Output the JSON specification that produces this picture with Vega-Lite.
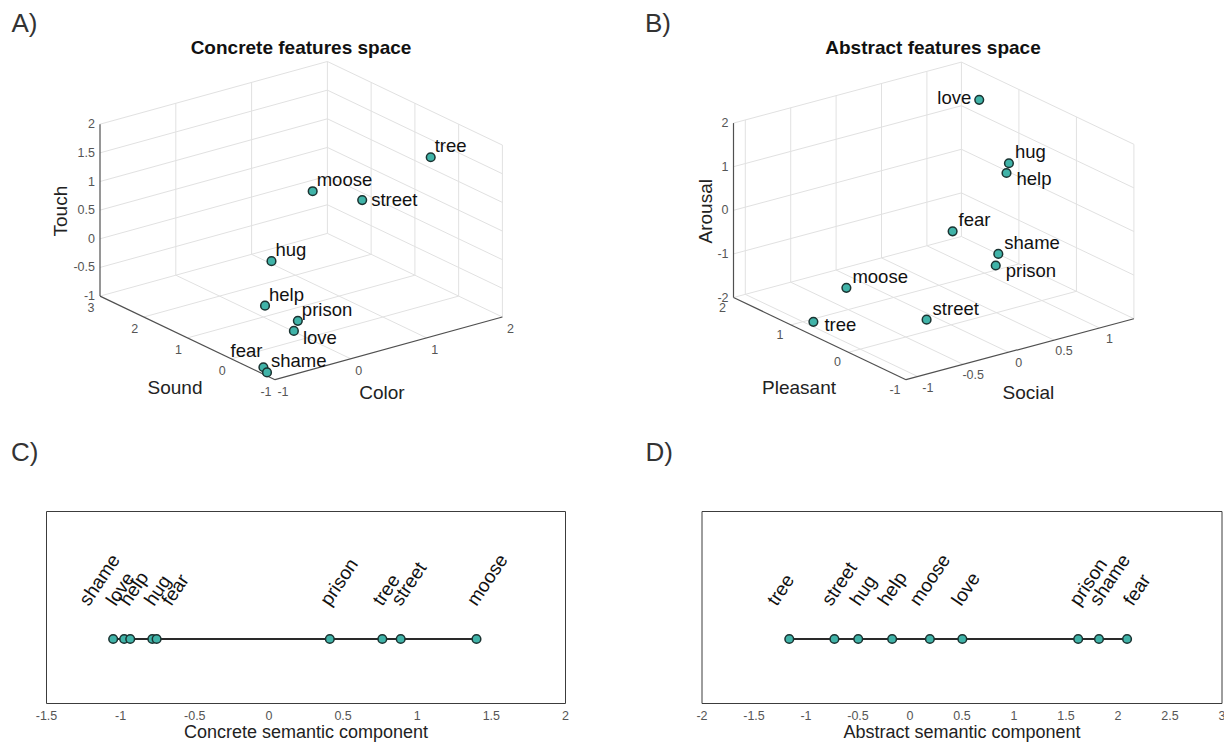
{
"$schema":"https://vega.github.io/schema/vega-lite/v6.json",
"background":"white",
"padding":{"left":10,"top":11,"right":0,"bottom":0},
"config":{"font":"Liberation Sans","view":{"stroke":null}},
"datasets":{
"ptsA":[
{"word":"tree","Color":1.92,"Sound":0.5,"Touch":1.27,"side":"above right"},
{"word":"moose","Color":0.94,"Sound":1.5,"Touch":0.67,"side":"above right"},
{"word":"street","Color":1.42,"Sound":1.2,"Touch":0.45,"side":"right"},
{"word":"hug","Color":-0.70,"Sound":-0.4,"Touch":0.74,"side":"above right"},
{"word":"help","Color":-0.67,"Sound":-0.2,"Touch":-0.12,"side":"above right"},
{"word":"prison","Color":-0.41,"Sound":-0.5,"Touch":-0.37,"side":"above right"},
{"word":"love","Color":-0.52,"Sound":-0.6,"Touch":-0.47,"side":"below right"},
{"word":"fear","Color":-0.98,"Sound":-0.7,"Touch":-0.90,"side":"above left"},
{"word":"shame","Color":-0.99,"Sound":-0.8,"Touch":-0.95,"side":"above right"}
],
"ticksA":[
{"axis":"Touch","Color":-1,"Sound":3,"Touch":-1,"label":"-1"},
{"axis":"Touch","Color":-1,"Sound":3,"Touch":-0.5,"label":"-0.5"},
{"axis":"Touch","Color":-1,"Sound":3,"Touch":0,"label":"0"},
{"axis":"Touch","Color":-1,"Sound":3,"Touch":0.5,"label":"0.5"},
{"axis":"Touch","Color":-1,"Sound":3,"Touch":1,"label":"1"},
{"axis":"Touch","Color":-1,"Sound":3,"Touch":1.5,"label":"1.5"},
{"axis":"Touch","Color":-1,"Sound":3,"Touch":2,"label":"2"},
{"axis":"Sound","Color":-1,"Sound":-1,"Touch":-1,"label":"-1"},
{"axis":"Sound","Color":-1,"Sound":0,"Touch":-1,"label":"0"},
{"axis":"Sound","Color":-1,"Sound":1,"Touch":-1,"label":"1"},
{"axis":"Sound","Color":-1,"Sound":2,"Touch":-1,"label":"2"},
{"axis":"Sound","Color":-1,"Sound":3,"Touch":-1,"label":"3"},
{"axis":"Color","Color":-1,"Sound":-1,"Touch":-1,"label":"-1"},
{"axis":"Color","Color":0,"Sound":-1,"Touch":-1,"label":"0"},
{"axis":"Color","Color":1,"Sound":-1,"Touch":-1,"label":"1"},
{"axis":"Color","Color":2,"Sound":-1,"Touch":-1,"label":"2"}
],
"titlesA":[
{"axis":"Touch","Color":-1,"Sound":3,"Touch":0.5},
{"axis":"Sound","Color":-1,"Sound":1,"Touch":-1},
{"axis":"Color","Color":0.5,"Sound":-1,"Touch":-1}
],
"gridA":[
{"c1":0,"s1":3,"t1":-1,"c2":0,"s2":3,"t2":2},
{"c1":1,"s1":3,"t1":-1,"c2":1,"s2":3,"t2":2},
{"c1":2,"s1":3,"t1":-1,"c2":2,"s2":3,"t2":2},
{"c1":-1,"s1":3,"t1":-1,"c2":2,"s2":3,"t2":-1},
{"c1":-1,"s1":3,"t1":-0.5,"c2":2,"s2":3,"t2":-0.5},
{"c1":-1,"s1":3,"t1":0,"c2":2,"s2":3,"t2":0},
{"c1":-1,"s1":3,"t1":0.5,"c2":2,"s2":3,"t2":0.5},
{"c1":-1,"s1":3,"t1":1,"c2":2,"s2":3,"t2":1},
{"c1":-1,"s1":3,"t1":1.5,"c2":2,"s2":3,"t2":1.5},
{"c1":-1,"s1":3,"t1":2,"c2":2,"s2":3,"t2":2},
{"c1":2,"s1":-1,"t1":-1,"c2":2,"s2":-1,"t2":2},
{"c1":2,"s1":0,"t1":-1,"c2":2,"s2":0,"t2":2},
{"c1":2,"s1":1,"t1":-1,"c2":2,"s2":1,"t2":2},
{"c1":2,"s1":2,"t1":-1,"c2":2,"s2":2,"t2":2},
{"c1":2,"s1":-1,"t1":-1,"c2":2,"s2":3,"t2":-1},
{"c1":2,"s1":-1,"t1":-0.5,"c2":2,"s2":3,"t2":-0.5},
{"c1":2,"s1":-1,"t1":0,"c2":2,"s2":3,"t2":0},
{"c1":2,"s1":-1,"t1":0.5,"c2":2,"s2":3,"t2":0.5},
{"c1":2,"s1":-1,"t1":1,"c2":2,"s2":3,"t2":1},
{"c1":2,"s1":-1,"t1":1.5,"c2":2,"s2":3,"t2":1.5},
{"c1":2,"s1":-1,"t1":2,"c2":2,"s2":3,"t2":2},
{"c1":0,"s1":-1,"t1":-1,"c2":0,"s2":3,"t2":-1},
{"c1":1,"s1":-1,"t1":-1,"c2":1,"s2":3,"t2":-1},
{"c1":-1,"s1":0,"t1":-1,"c2":2,"s2":0,"t2":-1},
{"c1":-1,"s1":1,"t1":-1,"c2":2,"s2":1,"t2":-1},
{"c1":-1,"s1":2,"t1":-1,"c2":2,"s2":2,"t2":-1}
],
"axesA":[
{"c1":-1,"s1":3,"t1":-1,"c2":-1,"s2":3,"t2":2},
{"c1":-1,"s1":-1,"t1":-1,"c2":-1,"s2":3,"t2":-1},
{"c1":-1,"s1":-1,"t1":-1,"c2":2,"s2":-1,"t2":-1}
],
"ptsB":[
{"word":"love","Social":1.38,"Pleasant":1.69,"Arousal":1.33,"side":"left"},
{"word":"hug","Social":1.27,"Pleasant":1.0,"Arousal":0.37,"side":"above right"},
{"word":"help","Social":1.18,"Pleasant":0.9,"Arousal":0.26,"side":"below right"},
{"word":"fear","Social":-0.49,"Pleasant":-0.8,"Arousal":0.92,"side":"above right"},
{"word":"shame","Social":-0.05,"Pleasant":-0.9,"Arousal":0.22,"side":"above right"},
{"word":"prison","Social":-0.11,"Pleasant":-0.95,"Arousal":0.02,"side":"below right"},
{"word":"street","Social":-0.27,"Pleasant":0.0,"Arousal":-1.73,"side":"above right"},
{"word":"moose","Social":-0.52,"Pleasant":1.0,"Arousal":-1.49,"side":"above right"},
{"word":"tree","Social":-1.01,"Pleasant":0.8,"Arousal":-1.87,"side":"right"}
],
"ticksB":[
{"axis":"Arousal","Social":-1.13,"Pleasant":2,"Arousal":-2,"label":"-2"},
{"axis":"Arousal","Social":-1.13,"Pleasant":2,"Arousal":-1,"label":"-1"},
{"axis":"Arousal","Social":-1.13,"Pleasant":2,"Arousal":0,"label":"0"},
{"axis":"Arousal","Social":-1.13,"Pleasant":2,"Arousal":1,"label":"1"},
{"axis":"Arousal","Social":-1.13,"Pleasant":2,"Arousal":2,"label":"2"},
{"axis":"Pleasant","Social":-1.13,"Pleasant":-1,"Arousal":-2,"label":"-1"},
{"axis":"Pleasant","Social":-1.13,"Pleasant":0,"Arousal":-2,"label":"0"},
{"axis":"Pleasant","Social":-1.13,"Pleasant":1,"Arousal":-2,"label":"1"},
{"axis":"Pleasant","Social":-1.13,"Pleasant":2,"Arousal":-2,"label":"2"},
{"axis":"Social","Social":-1,"Pleasant":-1,"Arousal":-2,"label":"-1"},
{"axis":"Social","Social":-0.5,"Pleasant":-1,"Arousal":-2,"label":"-0.5"},
{"axis":"Social","Social":0,"Pleasant":-1,"Arousal":-2,"label":"0"},
{"axis":"Social","Social":0.5,"Pleasant":-1,"Arousal":-2,"label":"0.5"},
{"axis":"Social","Social":1,"Pleasant":-1,"Arousal":-2,"label":"1"}
],
"titlesB":[
{"axis":"Arousal","Social":-1.13,"Pleasant":2,"Arousal":0},
{"axis":"Pleasant","Social":-1.13,"Pleasant":0.5,"Arousal":-2},
{"axis":"Social","Social":0.125,"Pleasant":-1,"Arousal":-2}
],
"gridB":[
{"so1":-1,"p1":2,"a1":-2,"so2":-1,"p2":2,"a2":2},
{"so1":-0.5,"p1":2,"a1":-2,"so2":-0.5,"p2":2,"a2":2},
{"so1":0,"p1":2,"a1":-2,"so2":0,"p2":2,"a2":2},
{"so1":0.5,"p1":2,"a1":-2,"so2":0.5,"p2":2,"a2":2},
{"so1":1,"p1":2,"a1":-2,"so2":1,"p2":2,"a2":2},
{"so1":1.38,"p1":2,"a1":-2,"so2":1.38,"p2":2,"a2":2},
{"so1":-1.13,"p1":2,"a1":-2,"so2":1.38,"p2":2,"a2":-2},
{"so1":-1.13,"p1":2,"a1":-1,"so2":1.38,"p2":2,"a2":-1},
{"so1":-1.13,"p1":2,"a1":0,"so2":1.38,"p2":2,"a2":0},
{"so1":-1.13,"p1":2,"a1":1,"so2":1.38,"p2":2,"a2":1},
{"so1":-1.13,"p1":2,"a1":2,"so2":1.38,"p2":2,"a2":2},
{"so1":1.38,"p1":-1,"a1":-2,"so2":1.38,"p2":-1,"a2":2},
{"so1":1.38,"p1":0,"a1":-2,"so2":1.38,"p2":0,"a2":2},
{"so1":1.38,"p1":1,"a1":-2,"so2":1.38,"p2":1,"a2":2},
{"so1":1.38,"p1":-1,"a1":-2,"so2":1.38,"p2":2,"a2":-2},
{"so1":1.38,"p1":-1,"a1":-1,"so2":1.38,"p2":2,"a2":-1},
{"so1":1.38,"p1":-1,"a1":0,"so2":1.38,"p2":2,"a2":0},
{"so1":1.38,"p1":-1,"a1":1,"so2":1.38,"p2":2,"a2":1},
{"so1":1.38,"p1":-1,"a1":2,"so2":1.38,"p2":2,"a2":2},
{"so1":-1,"p1":-1,"a1":-2,"so2":-1,"p2":2,"a2":-2},
{"so1":-0.5,"p1":-1,"a1":-2,"so2":-0.5,"p2":2,"a2":-2},
{"so1":0,"p1":-1,"a1":-2,"so2":0,"p2":2,"a2":-2},
{"so1":0.5,"p1":-1,"a1":-2,"so2":0.5,"p2":2,"a2":-2},
{"so1":1,"p1":-1,"a1":-2,"so2":1,"p2":2,"a2":-2},
{"so1":-1.13,"p1":0,"a1":-2,"so2":1.38,"p2":0,"a2":-2},
{"so1":-1.13,"p1":1,"a1":-2,"so2":1.38,"p2":1,"a2":-2}
],
"axesB":[
{"so1":-1.13,"p1":2,"a1":-2,"so2":-1.13,"p2":2,"a2":2},
{"so1":-1.13,"p1":-1,"a1":-2,"so2":-1.13,"p2":2,"a2":-2},
{"so1":-1.13,"p1":-1,"a1":-2,"so2":1.38,"p2":-1,"a2":-2}
],
"concrete1d":[
{"word":"shame","component":-1.047,"label_at":-1.211},
{"word":"love","component":-0.973,"label_at":-1.030},
{"word":"help","component":-0.932,"label_at":-0.940},
{"word":"hug","component":-0.783,"label_at":-0.772},
{"word":"fear","component":-0.754,"label_at":-0.656},
{"word":"prison","component":0.414,"label_at":0.414},
{"word":"tree","component":0.768,"label_at":0.768},
{"word":"street","component":0.892,"label_at":0.892},
{"word":"moose","component":1.403,"label_at":1.403}
],
"abstract1d":[
{"word":"tree","component":-1.156,"label_at":-1.277},
{"word":"street","component":-0.722,"label_at":-0.753},
{"word":"hug","component":-0.493,"label_at":-0.481},
{"word":"help","component":-0.167,"label_at":-0.212},
{"word":"moose","component":0.196,"label_at":0.092},
{"word":"love","component":0.508,"label_at":0.498},
{"word":"prison","component":1.622,"label_at":1.630},
{"word":"shame","component":1.822,"label_at":1.823},
{"word":"fear","component":2.092,"label_at":2.149}
]
},
"spacing":31,
"vconcat":[
{"hconcat":[
{"title":{"text":"A)","anchor":"start","frame":"group","fontSize":26,"fontWeight":"normal","color":"#333","baseline":"alphabetic","offset":-19,"dx":-34.5},
"vconcat":[{
"width":555,"height":350,"view":{"stroke":null},
"title":{"text":"Concrete features space","fontSize":19,"fontWeight":"bold","color":"#111","anchor":"middle","frame":"group","baseline":"alphabetic","offset":-15,"dx":-22.5},
"layer":[
{"data":{"name":"gridA"},"transform":[
{"calculate":"75.8*(datum.c1+1)-43.75*(datum.s1+1)","as":"gx1"},
{"calculate":"20.9*(datum.c1+datum.s1+2)+57.3*(datum.t1+1)","as":"gy1"},
{"calculate":"75.8*(datum.c2+1)-43.75*(datum.s2+1)","as":"gx2"},
{"calculate":"20.9*(datum.c2+datum.s2+2)+57.3*(datum.t2+1)","as":"gy2"}],
"mark":{"type":"rule","color":"#e1e1e1","strokeWidth":1},
"encoding":{"x":{"field":"gx1","type":"quantitative","scale":{"domain":[-229,326],"nice":false,"zero":false},"axis":null},
"y":{"field":"gy1","type":"quantitative","scale":{"domain":[-28.3,321.7],"nice":false,"zero":false},"axis":null},
"x2":{"field":"gx2"},"y2":{"field":"gy2"}}},
{"data":{"name":"axesA"},"transform":[
{"calculate":"75.8*(datum.c1+1)-43.75*(datum.s1+1)","as":"gx1"},
{"calculate":"20.9*(datum.c1+datum.s1+2)+57.3*(datum.t1+1)","as":"gy1"},
{"calculate":"75.8*(datum.c2+1)-43.75*(datum.s2+1)","as":"gx2"},
{"calculate":"20.9*(datum.c2+datum.s2+2)+57.3*(datum.t2+1)","as":"gy2"}],
"mark":{"type":"rule","color":"#505050","strokeWidth":1.2},
"encoding":{"x":{"field":"gx1","type":"quantitative","scale":{"domain":[-229,326],"nice":false,"zero":false},"axis":null},
"y":{"field":"gy1","type":"quantitative","scale":{"domain":[-28.3,321.7],"nice":false,"zero":false},"axis":null},
"x2":{"field":"gx2"},"y2":{"field":"gy2"}}},
{"data":{"name":"ticksA"},"transform":[{"filter":"datum.axis==='Touch'"},
{"calculate":"75.8*(datum.Color+1)-43.75*(datum.Sound+1)","as":"px"},
{"calculate":"20.9*(datum.Color+datum.Sound+2)+57.3*(datum.Touch+1)","as":"py"}],
"mark":{"type":"text","fontSize":12.5,"color":"#555","align":"right","baseline":"middle","dx":-5},
"encoding":{"x":{"field":"px","type":"quantitative","scale":{"domain":[-229,326],"nice":false,"zero":false},"axis":null},
"y":{"field":"py","type":"quantitative","scale":{"domain":[-28.3,321.7],"nice":false,"zero":false},"axis":null},
"text":{"field":"label","type":"nominal"}}},
{"data":{"name":"ticksA"},"transform":[{"filter":"datum.axis==='Sound'"},
{"calculate":"75.8*(datum.Color+1)-43.75*(datum.Sound+1)","as":"px"},
{"calculate":"20.9*(datum.Color+datum.Sound+2)+57.3*(datum.Touch+1)","as":"py"}],
"mark":{"type":"text","fontSize":12.5,"color":"#555","align":"center","baseline":"middle","dx":-9,"dy":12},
"encoding":{"x":{"field":"px","type":"quantitative","scale":{"domain":[-229,326],"nice":false,"zero":false},"axis":null},
"y":{"field":"py","type":"quantitative","scale":{"domain":[-28.3,321.7],"nice":false,"zero":false},"axis":null},
"text":{"field":"label","type":"nominal"}}},
{"data":{"name":"ticksA"},"transform":[{"filter":"datum.axis==='Color'"},
{"calculate":"75.8*(datum.Color+1)-43.75*(datum.Sound+1)","as":"px"},
{"calculate":"20.9*(datum.Color+datum.Sound+2)+57.3*(datum.Touch+1)","as":"py"}],
"mark":{"type":"text","fontSize":12.5,"color":"#555","align":"center","baseline":"middle","dx":8,"dy":12},
"encoding":{"x":{"field":"px","type":"quantitative","scale":{"domain":[-229,326],"nice":false,"zero":false},"axis":null},
"y":{"field":"py","type":"quantitative","scale":{"domain":[-28.3,321.7],"nice":false,"zero":false},"axis":null},
"text":{"field":"label","type":"nominal"}}},
{"data":{"name":"titlesA"},"transform":[{"filter":"datum.axis==='Touch'"},
{"calculate":"75.8*(datum.Color+1)-43.75*(datum.Sound+1)","as":"px"},
{"calculate":"20.9*(datum.Color+datum.Sound+2)+57.3*(datum.Touch+1)","as":"py"}],
"mark":{"type":"text","fontSize":19,"color":"#222","align":"center","baseline":"middle","angle":270,"dx":-1,"dy":-39},
"encoding":{"x":{"field":"px","type":"quantitative","scale":{"domain":[-229,326],"nice":false,"zero":false},"axis":null},
"y":{"field":"py","type":"quantitative","scale":{"domain":[-28.3,321.7],"nice":false,"zero":false},"axis":null},
"text":{"field":"axis","type":"nominal"}}},
{"data":{"name":"titlesA"},"transform":[{"filter":"datum.axis==='Sound'"},
{"calculate":"75.8*(datum.Color+1)-43.75*(datum.Sound+1)","as":"px"},
{"calculate":"20.9*(datum.Color+datum.Sound+2)+57.3*(datum.Touch+1)","as":"py"}],
"mark":{"type":"text","fontSize":19,"color":"#222","align":"center","baseline":"middle","dx":-12.5,"dy":50},
"encoding":{"x":{"field":"px","type":"quantitative","scale":{"domain":[-229,326],"nice":false,"zero":false},"axis":null},
"y":{"field":"py","type":"quantitative","scale":{"domain":[-28.3,321.7],"nice":false,"zero":false},"axis":null},
"text":{"field":"axis","type":"nominal"}}},
{"data":{"name":"titlesA"},"transform":[{"filter":"datum.axis==='Color'"},
{"calculate":"75.8*(datum.Color+1)-43.75*(datum.Sound+1)","as":"px"},
{"calculate":"20.9*(datum.Color+datum.Sound+2)+57.3*(datum.Touch+1)","as":"py"}],
"mark":{"type":"text","fontSize":19,"color":"#222","align":"center","baseline":"middle","dx":-6.7,"dy":44.7},
"encoding":{"x":{"field":"px","type":"quantitative","scale":{"domain":[-229,326],"nice":false,"zero":false},"axis":null},
"y":{"field":"py","type":"quantitative","scale":{"domain":[-28.3,321.7],"nice":false,"zero":false},"axis":null},
"text":{"field":"axis","type":"nominal"}}},
{"data":{"name":"ptsA"},"transform":[
{"calculate":"75.8*(datum.Color+1)-43.75*(datum.Sound+1)","as":"px"},
{"calculate":"20.9*(datum.Color+datum.Sound+2)+57.3*(datum.Touch+1)","as":"py"}],
"mark":{"type":"circle","size":75,"fill":"#40b3a8","stroke":"#1a3331","strokeWidth":1.5,"opacity":1},
"encoding":{"x":{"field":"px","type":"quantitative","scale":{"domain":[-229,326],"nice":false,"zero":false},"axis":null},
"y":{"field":"py","type":"quantitative","scale":{"domain":[-28.3,321.7],"nice":false,"zero":false},"axis":null}}},
{"data":{"name":"ptsA"},"transform":[{"filter":"datum.side==='above right'"},
{"calculate":"75.8*(datum.Color+1)-43.75*(datum.Sound+1)","as":"px"},
{"calculate":"20.9*(datum.Color+datum.Sound+2)+57.3*(datum.Touch+1)","as":"py"}],
"mark":{"type":"text","fontSize":18.5,"color":"#111","align":"left","baseline":"middle","dx":4,"dy":-11},
"encoding":{"x":{"field":"px","type":"quantitative","scale":{"domain":[-229,326],"nice":false,"zero":false},"axis":null},
"y":{"field":"py","type":"quantitative","scale":{"domain":[-28.3,321.7],"nice":false,"zero":false},"axis":null},
"text":{"field":"word","type":"nominal"}}},
{"data":{"name":"ptsA"},"transform":[{"filter":"datum.side==='right'"},
{"calculate":"75.8*(datum.Color+1)-43.75*(datum.Sound+1)","as":"px"},
{"calculate":"20.9*(datum.Color+datum.Sound+2)+57.3*(datum.Touch+1)","as":"py"}],
"mark":{"type":"text","fontSize":18.5,"color":"#111","align":"left","baseline":"middle","dx":9,"dy":0},
"encoding":{"x":{"field":"px","type":"quantitative","scale":{"domain":[-229,326],"nice":false,"zero":false},"axis":null},
"y":{"field":"py","type":"quantitative","scale":{"domain":[-28.3,321.7],"nice":false,"zero":false},"axis":null},
"text":{"field":"word","type":"nominal"}}},
{"data":{"name":"ptsA"},"transform":[{"filter":"datum.side==='below right'"},
{"calculate":"75.8*(datum.Color+1)-43.75*(datum.Sound+1)","as":"px"},
{"calculate":"20.9*(datum.Color+datum.Sound+2)+57.3*(datum.Touch+1)","as":"py"}],
"mark":{"type":"text","fontSize":18.5,"color":"#111","align":"left","baseline":"middle","dx":9,"dy":7},
"encoding":{"x":{"field":"px","type":"quantitative","scale":{"domain":[-229,326],"nice":false,"zero":false},"axis":null},
"y":{"field":"py","type":"quantitative","scale":{"domain":[-28.3,321.7],"nice":false,"zero":false},"axis":null},
"text":{"field":"word","type":"nominal"}}},
{"data":{"name":"ptsA"},"transform":[{"filter":"datum.side==='above left'"},
{"calculate":"75.8*(datum.Color+1)-43.75*(datum.Sound+1)","as":"px"},
{"calculate":"20.9*(datum.Color+datum.Sound+2)+57.3*(datum.Touch+1)","as":"py"}],
"mark":{"type":"text","fontSize":18.5,"color":"#111","align":"right","baseline":"middle","dx":-1,"dy":-16},
"encoding":{"x":{"field":"px","type":"quantitative","scale":{"domain":[-229,326],"nice":false,"zero":false},"axis":null},
"y":{"field":"py","type":"quantitative","scale":{"domain":[-28.3,321.7],"nice":false,"zero":false},"axis":null},
"text":{"field":"word","type":"nominal"}}}
]}]},
{"title":{"text":"B)","anchor":"start","frame":"group","fontSize":26,"fontWeight":"normal","color":"#333","baseline":"alphabetic","offset":-19,"dx":4},
"vconcat":[{
"width":584,"height":350,"view":{"stroke":null},
"title":{"text":"Abstract features space","fontSize":19,"fontWeight":"bold","color":"#111","anchor":"middle","frame":"group","baseline":"alphabetic","offset":-15},
"layer":[
{"data":{"name":"gridB"},"transform":[
{"calculate":"90.8*(datum.so1+1.13)-57.5*(datum.p1+1)","as":"gx1"},
{"calculate":"24.3*(datum.so1+1.13)+27.4*(datum.p1+1)+43.6*(datum.a1+2)","as":"gy1"},
{"calculate":"90.8*(datum.so2+1.13)-57.5*(datum.p2+1)","as":"gx2"},
{"calculate":"24.3*(datum.so2+1.13)+27.4*(datum.p2+1)+43.6*(datum.a2+2)","as":"gy2"}],
"mark":{"type":"rule","color":"#e1e1e1","strokeWidth":1},
"encoding":{"x":{"field":"gx1","type":"quantitative","scale":{"domain":[-265,319],"nice":false,"zero":false},"axis":null},
"y":{"field":"gy1","type":"quantitative","scale":{"domain":[-28.3,321.7],"nice":false,"zero":false},"axis":null},
"x2":{"field":"gx2"},"y2":{"field":"gy2"}}},
{"data":{"name":"axesB"},"transform":[
{"calculate":"90.8*(datum.so1+1.13)-57.5*(datum.p1+1)","as":"gx1"},
{"calculate":"24.3*(datum.so1+1.13)+27.4*(datum.p1+1)+43.6*(datum.a1+2)","as":"gy1"},
{"calculate":"90.8*(datum.so2+1.13)-57.5*(datum.p2+1)","as":"gx2"},
{"calculate":"24.3*(datum.so2+1.13)+27.4*(datum.p2+1)+43.6*(datum.a2+2)","as":"gy2"}],
"mark":{"type":"rule","color":"#505050","strokeWidth":1.2},
"encoding":{"x":{"field":"gx1","type":"quantitative","scale":{"domain":[-265,319],"nice":false,"zero":false},"axis":null},
"y":{"field":"gy1","type":"quantitative","scale":{"domain":[-28.3,321.7],"nice":false,"zero":false},"axis":null},
"x2":{"field":"gx2"},"y2":{"field":"gy2"}}},
{"data":{"name":"ticksB"},"transform":[{"filter":"datum.axis==='Arousal'"},
{"calculate":"90.8*(datum.Social+1.13)-57.5*(datum.Pleasant+1)","as":"px"},
{"calculate":"24.3*(datum.Social+1.13)+27.4*(datum.Pleasant+1)+43.6*(datum.Arousal+2)","as":"py"}],
"mark":{"type":"text","fontSize":12.5,"color":"#555","align":"right","baseline":"middle","dx":-5},
"encoding":{"x":{"field":"px","type":"quantitative","scale":{"domain":[-265,319],"nice":false,"zero":false},"axis":null},
"y":{"field":"py","type":"quantitative","scale":{"domain":[-28.3,321.7],"nice":false,"zero":false},"axis":null},
"text":{"field":"label","type":"nominal"}}},
{"data":{"name":"ticksB"},"transform":[{"filter":"datum.axis==='Pleasant'"},
{"calculate":"90.8*(datum.Social+1.13)-57.5*(datum.Pleasant+1)","as":"px"},
{"calculate":"24.3*(datum.Social+1.13)+27.4*(datum.Pleasant+1)+43.6*(datum.Arousal+2)","as":"py"}],
"mark":{"type":"text","fontSize":12.5,"color":"#555","align":"center","baseline":"middle","dx":-11,"dy":10},
"encoding":{"x":{"field":"px","type":"quantitative","scale":{"domain":[-265,319],"nice":false,"zero":false},"axis":null},
"y":{"field":"py","type":"quantitative","scale":{"domain":[-28.3,321.7],"nice":false,"zero":false},"axis":null},
"text":{"field":"label","type":"nominal"}}},
{"data":{"name":"ticksB"},"transform":[{"filter":"datum.axis==='Social'"},
{"calculate":"90.8*(datum.Social+1.13)-57.5*(datum.Pleasant+1)","as":"px"},
{"calculate":"24.3*(datum.Social+1.13)+27.4*(datum.Pleasant+1)+43.6*(datum.Arousal+2)","as":"py"}],
"mark":{"type":"text","fontSize":12.5,"color":"#555","align":"center","baseline":"middle","dx":10,"dy":11},
"encoding":{"x":{"field":"px","type":"quantitative","scale":{"domain":[-265,319],"nice":false,"zero":false},"axis":null},
"y":{"field":"py","type":"quantitative","scale":{"domain":[-28.3,321.7],"nice":false,"zero":false},"axis":null},
"text":{"field":"label","type":"nominal"}}},
{"data":{"name":"titlesB"},"transform":[{"filter":"datum.axis==='Arousal'"},
{"calculate":"90.8*(datum.Social+1.13)-57.5*(datum.Pleasant+1)","as":"px"},
{"calculate":"24.3*(datum.Social+1.13)+27.4*(datum.Pleasant+1)+43.6*(datum.Arousal+2)","as":"py"}],
"mark":{"type":"text","fontSize":19,"color":"#222","align":"center","baseline":"middle","angle":270,"dx":-1,"dy":-27.5},
"encoding":{"x":{"field":"px","type":"quantitative","scale":{"domain":[-265,319],"nice":false,"zero":false},"axis":null},
"y":{"field":"py","type":"quantitative","scale":{"domain":[-28.3,321.7],"nice":false,"zero":false},"axis":null},
"text":{"field":"axis","type":"nominal"}}},
{"data":{"name":"titlesB"},"transform":[{"filter":"datum.axis==='Pleasant'"},
{"calculate":"90.8*(datum.Social+1.13)-57.5*(datum.Pleasant+1)","as":"px"},
{"calculate":"24.3*(datum.Social+1.13)+27.4*(datum.Pleasant+1)+43.6*(datum.Arousal+2)","as":"py"}],
"mark":{"type":"text","fontSize":19,"color":"#222","align":"center","baseline":"middle","dx":-20.7,"dy":49.4},
"encoding":{"x":{"field":"px","type":"quantitative","scale":{"domain":[-265,319],"nice":false,"zero":false},"axis":null},
"y":{"field":"py","type":"quantitative","scale":{"domain":[-28.3,321.7],"nice":false,"zero":false},"axis":null},
"text":{"field":"axis","type":"nominal"}}},
{"data":{"name":"titlesB"},"transform":[{"filter":"datum.axis==='Social'"},
{"calculate":"90.8*(datum.Social+1.13)-57.5*(datum.Pleasant+1)","as":"px"},
{"calculate":"24.3*(datum.Social+1.13)+27.4*(datum.Pleasant+1)+43.6*(datum.Arousal+2)","as":"py"}],
"mark":{"type":"text","fontSize":19,"color":"#222","align":"center","baseline":"middle","dx":8.5,"dy":43.8},
"encoding":{"x":{"field":"px","type":"quantitative","scale":{"domain":[-265,319],"nice":false,"zero":false},"axis":null},
"y":{"field":"py","type":"quantitative","scale":{"domain":[-28.3,321.7],"nice":false,"zero":false},"axis":null},
"text":{"field":"axis","type":"nominal"}}},
{"data":{"name":"ptsB"},"transform":[
{"calculate":"90.8*(datum.Social+1.13)-57.5*(datum.Pleasant+1)","as":"px"},
{"calculate":"24.3*(datum.Social+1.13)+27.4*(datum.Pleasant+1)+43.6*(datum.Arousal+2)","as":"py"}],
"mark":{"type":"circle","size":75,"fill":"#40b3a8","stroke":"#1a3331","strokeWidth":1.5,"opacity":1},
"encoding":{"x":{"field":"px","type":"quantitative","scale":{"domain":[-265,319],"nice":false,"zero":false},"axis":null},
"y":{"field":"py","type":"quantitative","scale":{"domain":[-28.3,321.7],"nice":false,"zero":false},"axis":null}}},
{"data":{"name":"ptsB"},"transform":[{"filter":"datum.side==='above right'"},
{"calculate":"90.8*(datum.Social+1.13)-57.5*(datum.Pleasant+1)","as":"px"},
{"calculate":"24.3*(datum.Social+1.13)+27.4*(datum.Pleasant+1)+43.6*(datum.Arousal+2)","as":"py"}],
"mark":{"type":"text","fontSize":18.5,"color":"#111","align":"left","baseline":"middle","dx":6,"dy":-11},
"encoding":{"x":{"field":"px","type":"quantitative","scale":{"domain":[-265,319],"nice":false,"zero":false},"axis":null},
"y":{"field":"py","type":"quantitative","scale":{"domain":[-28.3,321.7],"nice":false,"zero":false},"axis":null},
"text":{"field":"word","type":"nominal"}}},
{"data":{"name":"ptsB"},"transform":[{"filter":"datum.side==='right'"},
{"calculate":"90.8*(datum.Social+1.13)-57.5*(datum.Pleasant+1)","as":"px"},
{"calculate":"24.3*(datum.Social+1.13)+27.4*(datum.Pleasant+1)+43.6*(datum.Arousal+2)","as":"py"}],
"mark":{"type":"text","fontSize":18.5,"color":"#111","align":"left","baseline":"middle","dx":11,"dy":3},
"encoding":{"x":{"field":"px","type":"quantitative","scale":{"domain":[-265,319],"nice":false,"zero":false},"axis":null},
"y":{"field":"py","type":"quantitative","scale":{"domain":[-28.3,321.7],"nice":false,"zero":false},"axis":null},
"text":{"field":"word","type":"nominal"}}},
{"data":{"name":"ptsB"},"transform":[{"filter":"datum.side==='below right'"},
{"calculate":"90.8*(datum.Social+1.13)-57.5*(datum.Pleasant+1)","as":"px"},
{"calculate":"24.3*(datum.Social+1.13)+27.4*(datum.Pleasant+1)+43.6*(datum.Arousal+2)","as":"py"}],
"mark":{"type":"text","fontSize":18.5,"color":"#111","align":"left","baseline":"middle","dx":10,"dy":6},
"encoding":{"x":{"field":"px","type":"quantitative","scale":{"domain":[-265,319],"nice":false,"zero":false},"axis":null},
"y":{"field":"py","type":"quantitative","scale":{"domain":[-28.3,321.7],"nice":false,"zero":false},"axis":null},
"text":{"field":"word","type":"nominal"}}},
{"data":{"name":"ptsB"},"transform":[{"filter":"datum.side==='left'"},
{"calculate":"90.8*(datum.Social+1.13)-57.5*(datum.Pleasant+1)","as":"px"},
{"calculate":"24.3*(datum.Social+1.13)+27.4*(datum.Pleasant+1)+43.6*(datum.Arousal+2)","as":"py"}],
"mark":{"type":"text","fontSize":18.5,"color":"#111","align":"right","baseline":"middle","dx":-8,"dy":-2},
"encoding":{"x":{"field":"px","type":"quantitative","scale":{"domain":[-265,319],"nice":false,"zero":false},"axis":null},
"y":{"field":"py","type":"quantitative","scale":{"domain":[-28.3,321.7],"nice":false,"zero":false},"axis":null},
"text":{"field":"word","type":"nominal"}}}
]}]}
],"spacing":40},
{"hconcat":[
{"title":{"text":"C)","anchor":"start","frame":"group","fontSize":26,"fontWeight":"normal","color":"#333","baseline":"alphabetic","offset":24,"dx":-35},
"width":519,"height":192,"view":{"stroke":"#3c3c3c","strokeWidth":1},
"layer":[
{"data":{"name":"concrete1d"},
"mark":{"type":"line","color":"#2a2a2a","strokeWidth":1.8},
"encoding":{"x":{"field":"component","type":"quantitative","scale":{"domain":[-1.5,2],"nice":false,"zero":false},
"axis":{"values":[-1.5,-1,-0.5,0,0.5,1,1.5,2],"labelExpr":"replace(format(datum.value,'~g'),'−','-')","title":"Concrete semantic component","titleFontSize":18,"titleFontWeight":"normal","titleColor":"#222","titlePadding":2,"labelFontSize":12.5,"labelColor":"#555","labelPadding":6,"labelFlush":false,"labelOverlap":false,"ticks":false,"domain":false,"grid":false}},
"y":{"datum":0,"type":"quantitative","scale":{"domain":[-0.5,1],"nice":false,"zero":false},"axis":null}}},
{"data":{"name":"concrete1d"},
"mark":{"type":"circle","size":75,"fill":"#40b3a8","stroke":"#1a3331","strokeWidth":1.5,"opacity":1},
"encoding":{"x":{"field":"component","type":"quantitative"},"y":{"datum":0,"type":"quantitative"}}},
{"data":{"name":"concrete1d"},
"mark":{"type":"text","fontSize":19,"color":"#111","align":"left","baseline":"alphabetic","angle":304},
"encoding":{"x":{"field":"label_at","type":"quantitative"},"y":{"datum":0.25,"type":"quantitative"},"text":{"field":"word","type":"nominal"}}}
]},
{"title":{"text":"D)","anchor":"start","frame":"group","fontSize":26,"fontWeight":"normal","color":"#333","baseline":"alphabetic","offset":24,"dx":-56},
"width":520,"height":192,"view":{"stroke":"#3c3c3c","strokeWidth":1},
"layer":[
{"data":{"name":"abstract1d"},
"mark":{"type":"line","color":"#2a2a2a","strokeWidth":1.8},
"encoding":{"x":{"field":"component","type":"quantitative","scale":{"domain":[-2,3],"nice":false,"zero":false},
"axis":{"values":[-2,-1.5,-1,-0.5,0,0.5,1,1.5,2,2.5,3],"labelExpr":"replace(format(datum.value,'~g'),'−','-')","title":"Abstract semantic component","titleFontSize":18,"titleFontWeight":"normal","titleColor":"#222","titlePadding":2,"labelFontSize":12.5,"labelColor":"#555","labelPadding":6,"labelFlush":false,"labelOverlap":false,"ticks":false,"domain":false,"grid":false}},
"y":{"datum":0,"type":"quantitative","scale":{"domain":[-0.5,1],"nice":false,"zero":false},"axis":null}}},
{"data":{"name":"abstract1d"},
"mark":{"type":"circle","size":75,"fill":"#40b3a8","stroke":"#1a3331","strokeWidth":1.5,"opacity":1},
"encoding":{"x":{"field":"component","type":"quantitative"},"y":{"datum":0,"type":"quantitative"}}},
{"data":{"name":"abstract1d"},
"mark":{"type":"text","fontSize":19,"color":"#111","align":"left","baseline":"alphabetic","angle":304},
"encoding":{"x":{"field":"label_at","type":"quantitative"},"y":{"datum":0.25,"type":"quantitative"},"text":{"field":"word","type":"nominal"}}}
]}
],"spacing":75.5}
]
}
